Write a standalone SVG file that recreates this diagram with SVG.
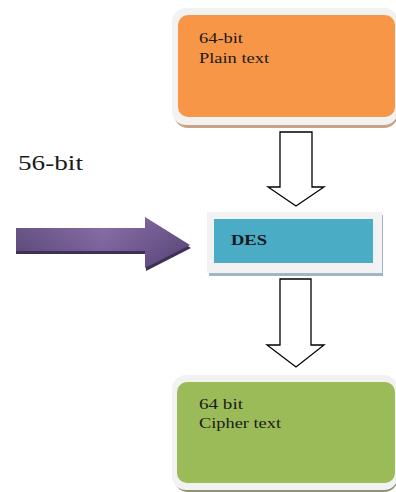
<svg xmlns="http://www.w3.org/2000/svg" width="396" height="492" viewBox="0 0 396 492">
<defs>
<linearGradient id="pg" x1="0" y1="0" x2="1" y2="0">
<stop offset="0" stop-color="#5F4A80"/>
<stop offset="0.5" stop-color="#8064A2"/>
<stop offset="1" stop-color="#5E4880"/>
</linearGradient>
<linearGradient id="pv" x1="0" y1="0" x2="0" y2="1">
<stop offset="0" stop-color="#ffffff" stop-opacity="0.08"/>
<stop offset="1" stop-color="#000000" stop-opacity="0.1"/>
</linearGradient>
</defs>
<style>
.frame{fill:#F2F2F2;}
text{font-family:'Liberation Serif','DejaVu Serif',serif;fill:#1a1a1a;}
.lbl{font-size:15px;}
.big{font-size:22px;}
.hollow{fill:#ffffff;stroke:#000000;stroke-width:1.3;stroke-linejoin:miter;}
</style>
<rect width="396" height="492" fill="#ffffff"/>
<g id="plain">
<rect x="174" y="11" width="224" height="117" rx="14" fill="#C9A385"/>
<rect class="frame" x="172" y="8" width="226" height="117" rx="14"/>
<rect x="178" y="15" width="217" height="102" rx="10" fill="#F79646"/>
<text class="lbl" x="199" y="43" textLength="44" lengthAdjust="spacingAndGlyphs">64-bit</text>
<text class="lbl" x="199" y="63" textLength="70" lengthAdjust="spacingAndGlyphs">Plain text</text>
</g>
<g id="des">
<rect x="209" y="215" width="174" height="61" fill="#9FB6C4"/>
<rect class="frame" x="207" y="212" width="175" height="61"/>
<rect x="214" y="219" width="159" height="44" fill="#4BACC6"/>
<text class="lbl" x="231" y="245" font-size="13" font-weight="bold" textLength="36" lengthAdjust="spacingAndGlyphs">DES</text>
</g>
<g id="cipher">
<rect x="174" y="378" width="224" height="114" rx="14" fill="#8E9276"/>
<rect class="frame" x="172" y="375" width="226" height="115" rx="14"/>
<rect x="177" y="382" width="218" height="101" rx="10" fill="#9BBB59"/>
<text class="lbl" x="199" y="409" textLength="44" lengthAdjust="spacingAndGlyphs">64 bit</text>
<text class="lbl" x="199" y="428" textLength="82" lengthAdjust="spacingAndGlyphs">Cipher text</text>
</g>
<g id="key">
<text class="big" x="18" y="170" textLength="65" lengthAdjust="spacingAndGlyphs">56-bit</text>
</g>
<g id="connectors">
<polygon class="hollow" points="280,132 312,132 312,187 324,187 296,206 268,187 280,187"/>
<polygon class="hollow" points="280,279 311,279 311,345 324,345 296,367 267,345 280,345"/>
<polygon points="16,231 146,231 146,220 191,248 146,271 146,254 16,254" fill="#3F3055"/>
<polygon points="16,228 145,228 145,217 190,245 145,268 145,251 16,251" fill="url(#pg)"/>
<polygon points="16,228 145,228 145,217 190,245 145,268 145,251 16,251" fill="url(#pv)"/>
</g>
</svg>
